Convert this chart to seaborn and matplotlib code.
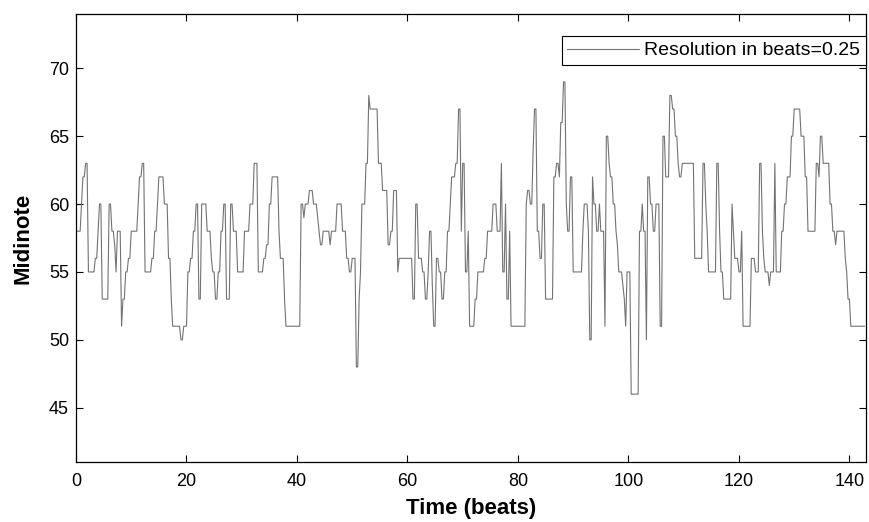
import numpy as np
import pandas as pd
import matplotlib
matplotlib.use("Agg")
import matplotlib.pyplot as plt
import seaborn as sns

# Note events: onset time (beats) and MIDI note, sampled at 0.25-beat resolution
onsets = [0.0, 1.0, 1.25, 1.75, 2.25, 3.5, 4.0, 4.25, 4.75, 6.0, 6.5, 7.0, 7.25, 7.5,
          8.25, 8.5, 9.0, 9.5, 10.0, 11.25, 11.5, 12.0, 12.5, 13.75, 14.25, 14.75, 15.0,
          16.0, 16.75, 17.25, 17.5, 19.0, 19.5, 20.25, 20.75, 21.25, 21.75, 22.25, 22.75,
          23.75, 24.5, 24.75, 25.25, 25.75, 26.25, 26.75, 27.25, 28.0, 28.5, 29.25, 30.5,
          31.5, 32.25, 33.0, 34.0, 34.5, 35.0, 35.5, 36.75, 37.0, 37.75, 38.0, 40.75,
          41.25, 41.5, 42.25, 43.0, 43.75, 44.0, 44.25, 44.75, 46.0, 46.25, 47.25, 48.25,
          49.0, 49.5, 50.0, 50.75, 51.25, 51.5, 51.75, 52.5, 53.0, 53.25, 54.75, 55.5,
          56.5, 57.0, 57.5, 58.25, 58.5, 61.0, 61.5, 62.0, 62.75, 63.25, 63.75, 64.0,
          64.5, 64.75, 65.25, 65.75, 66.25, 66.75, 67.25, 67.75, 68.0, 68.75, 69.25,
          69.75, 70.0, 70.5, 71.0, 71.25, 72.25, 72.75, 74.0, 74.5, 75.5, 76.25, 77.0,
          77.25, 77.75, 78.0, 78.5, 78.75, 81.5, 81.75, 82.25, 82.75, 83.0, 83.5, 84.0,
          84.5, 85.0, 86.5, 87.0, 87.5, 87.75, 88.25, 88.75, 89.0, 89.5, 90.0, 91.75,
          92.0, 92.75, 93.0, 93.5, 93.75, 94.25, 94.75, 95.0, 95.75, 96.0, 96.5, 96.75,
          97.25, 97.75, 98.0, 98.25, 99.0, 99.25, 99.5, 99.75, 100.5, 102.0, 102.5,
          102.75, 103.25, 103.5, 104.0, 104.5, 105.0, 105.75, 106.25, 106.75, 107.5,
          108.0, 108.5, 109.0, 109.25, 109.75, 112.0, 113.5, 114.0, 114.25, 114.5, 116.0,
          116.5, 116.75, 117.25, 118.75, 119.0, 119.25, 120.0, 120.5, 120.75, 122.25,
          123.0, 123.75, 124.25, 124.5, 124.75, 125.5, 125.75, 126.5, 126.75, 127.75,
          128.25, 128.75, 129.5, 130.0, 131.25, 132.0, 132.5, 134.0, 134.5, 134.75,
          135.25, 136.5, 137.0, 137.5, 137.75, 139.25, 139.5, 139.75, 140.25]
notes = [58, 60, 62, 63, 55, 56, 58, 60, 53, 60, 58, 57, 55, 58,
         51, 53, 55, 56, 58, 60, 62, 63, 55, 56, 58, 60, 62,
         60, 56, 53, 51, 50, 51, 55, 56, 58, 60, 53, 60,
         58, 56, 55, 53, 55, 58, 60, 53, 60, 58, 55, 58,
         60, 63, 55, 56, 57, 60, 62, 58, 56, 53, 51, 60,
         59, 60, 61, 60, 59, 58, 57, 58, 57, 58, 60, 58,
         56, 55, 56, 48, 53, 55, 60, 63, 68, 67, 63, 61,
         57, 58, 61, 55, 56, 53, 60, 56, 55, 53, 55, 58,
         54, 51, 56, 55, 53, 55, 58, 60, 62, 63, 67,
         58, 63, 55, 58, 51, 53, 55, 56, 58, 60, 58, 63,
         55, 60, 53, 58, 51, 60, 61, 60, 64, 67, 58, 56,
         60, 53, 62, 63, 62, 66, 69, 60, 58, 62, 55, 58,
         60, 58, 50, 62, 60, 58, 60, 58, 51, 65, 63, 62,
         60, 58, 57, 55, 54, 53, 51, 55, 46, 58, 60,
         58, 50, 62, 60, 58, 60, 51, 65, 62, 68,
         67, 65, 63, 62, 63, 56, 63, 60, 58, 55, 63,
         58, 55, 53, 60, 58, 56, 55, 58, 51, 56,
         55, 63, 58, 56, 55, 54, 55, 63, 55, 58,
         60, 62, 65, 67, 65, 62, 58, 63, 62, 65,
         63, 60, 58, 57, 58, 56, 55, 53, 51]
end_time = 143.0
resolution = 0.25

x_ticks = [0, 20, 40, 60, 80, 100, 120, 140]
y_ticks = [45, 50, 55, 60, 65, 70]
legend_label = "Resolution in beats=0.25"

# sample the note events on the 0.25-beat grid
bounds = np.append(onsets, end_time)
counts = np.round(np.diff(bounds) / resolution).astype(int)
vals = np.repeat(notes, counts)
times = np.arange(len(vals)) * resolution
df = pd.DataFrame({"time": times, "note": vals, "series": legend_label})

sns.set_style("ticks")
plt.rcParams["font.family"] = ["Liberation Sans", "DejaVu Sans"]
plt.rcParams["text.color"] = "black"
plt.rcParams["axes.labelcolor"] = "black"

fig = plt.figure(figsize=(8.69, 5.22), dpi=100)
ax = fig.add_axes([76 / 869, 1 - 462 / 522, 790 / 869, 448 / 522])
sns.lineplot(data=df, x="time", y="note", hue="series", palette=["#737373"],
             linewidth=0.8, ax=ax, estimator=None, legend=True)

ax.set_xlim(0, end_time)
ax.set_ylim(41, 74)
ax.set_xticks(x_ticks)
ax.set_yticks(y_ticks)
ax.tick_params(direction="in", length=5, width=0.8, top=True, right=True,
               labelsize=13, colors="black")
ax.tick_params(axis="x", pad=8)
ax.tick_params(axis="y", pad=5)
for s in ax.spines.values():
    s.set_visible(True)
    s.set_linewidth(0.9)
    s.set_color("black")
ax.set_xlabel("Time (beats)", fontsize=16, fontweight="bold", labelpad=6, color="black")
ax.set_ylabel("Midinote", fontsize=16, fontweight="bold", labelpad=11, color="black")

leg = ax.legend(loc="upper right", fontsize=14, frameon=True, fancybox=False,
                edgecolor="black", framealpha=1, borderaxespad=0.0,
                bbox_to_anchor=(1.0, 0.951), handlelength=3.7, borderpad=0.3,
                handletextpad=0.25)
leg.get_frame().set_linewidth(0.8)
for line in leg.get_lines():
    line.set_linewidth(0.8)

fig.savefig("out.png", dpi=100)
